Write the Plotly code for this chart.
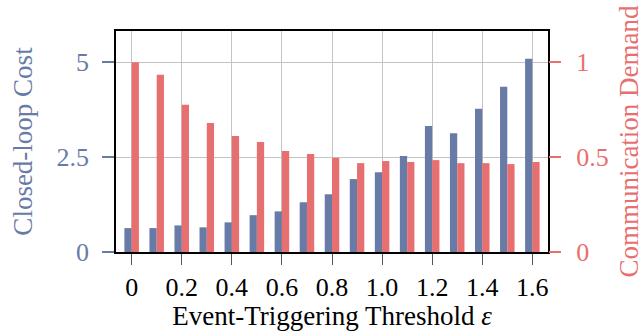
import plotly.graph_objects as go

eps = [0.0, 0.1, 0.2, 0.3, 0.4, 0.5, 0.6, 0.7, 0.8, 0.9, 1.0, 1.1, 1.2, 1.3, 1.4, 1.5, 1.6]
cost = [0.63, 0.63, 0.70, 0.65, 0.78, 0.97, 1.07, 1.31, 1.52, 1.92, 2.10, 2.53, 3.32, 3.13, 3.77, 4.35, 5.09]
demand = [1.0, 0.933, 0.775, 0.68, 0.611, 0.579, 0.532, 0.516, 0.496, 0.468, 0.479, 0.474, 0.484, 0.468, 0.468, 0.463, 0.474]
x_tickvals = [0, 0.2, 0.4, 0.6, 0.8, 1.0, 1.2, 1.4, 1.6]
x_ticktext = ["0", "0.2", "0.4", "0.6", "0.8", "1.0", "1.2", "1.4", "1.6"]
y1_tickvals = [0, 2.5, 5]
y1_ticktext = ["0", "2.5", "5"]
y2_tickvals = [0, 0.5, 1]
y2_ticktext = ["0", "0.5", "1"]

BLUE = "#687ba7"
RED = "#e86f6f"
FONT = "Liberation Serif"
BW = 0.029

fig = go.Figure()
fig.add_trace(go.Bar(x=eps, y=cost, width=BW, offset=-BW, marker=dict(color=BLUE, line=dict(width=0)),
                     name="Closed-loop Cost", yaxis="y"))
fig.add_trace(go.Bar(x=eps, y=demand, width=BW, offset=0, marker=dict(color=RED, line=dict(width=0)),
                     name="Communication Demand", yaxis="y2"))

fig.update_layout(
    width=644, height=331, autosize=False,
    margin=dict(l=115.5, r=96, t=30.5, b=79, pad=0),
    paper_bgcolor="white", plot_bgcolor="white",
    showlegend=False, barmode="overlay",
    font=dict(family=FONT, size=26, color="black"),
    xaxis=dict(range=[-0.0625, 1.6625], tickvals=x_tickvals, ticktext=x_ticktext,
               showgrid=True, gridcolor="#c4c4c4", gridwidth=1.2, automargin=False,
               ticks="outside", ticklen=11, tickcolor="#555555", tickwidth=1.2,
               showline=True, mirror=True, linecolor="black", linewidth=1.5,
               zeroline=False, tickfont=dict(size=26, color="black"),
               title=dict(text="Event-Triggering Threshold <i>ε</i>", font=dict(size=27), standoff=2)),
    yaxis=dict(range=[0, 5.82], tickvals=y1_tickvals, ticktext=y1_ticktext,
               showgrid=True, gridcolor="#c4c4c4", gridwidth=1.2, zeroline=False,
               ticks="outside", ticklen=12, tickcolor=BLUE, tickwidth=1.5,
               ticklabelstandoff=8, automargin=False,
               showline=True, mirror=True, linecolor="black", linewidth=1.5,
               tickfont=dict(size=26, color=BLUE),
               title=dict(text="Closed-loop Cost", font=dict(size=27, color=BLUE), standoff=16)),
    yaxis2=dict(range=[0, 5.82 / 5], tickvals=y2_tickvals, ticktext=y2_ticktext,
                overlaying="y", side="right", showgrid=False, zeroline=False,
                ticks="outside", ticklen=12, tickcolor=RED, tickwidth=1.5,
                ticklabelstandoff=10, showline=False, automargin=False,
                tickfont=dict(size=26, color=RED),
                title=dict(text="Communication Demand", font=dict(size=27, color=RED), standoff=30)),
)

fig.write_html("out.html")
